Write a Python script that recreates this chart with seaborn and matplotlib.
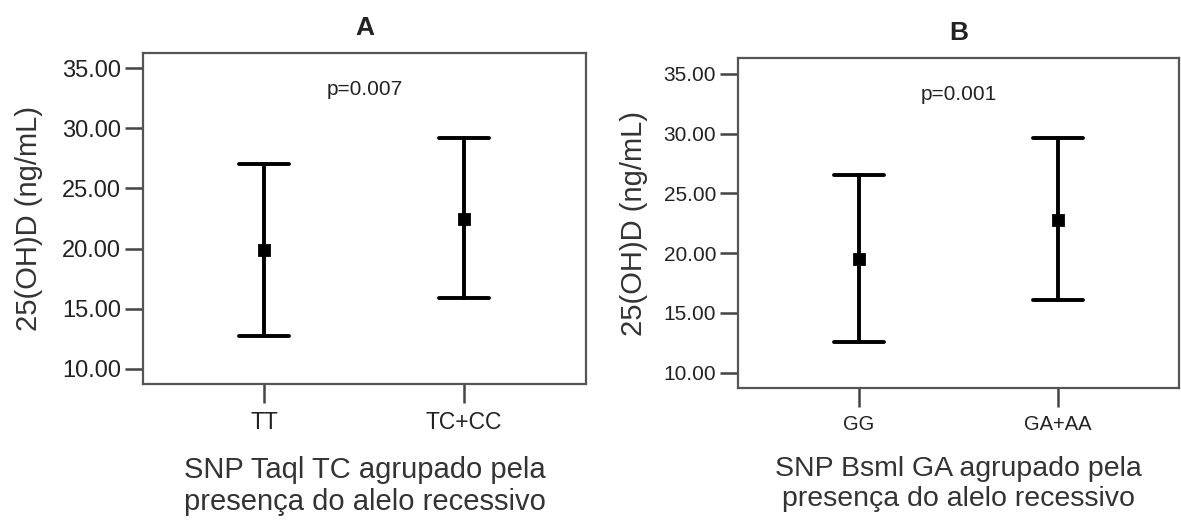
import numpy as np
import pandas as pd
import seaborn as sns
import matplotlib.pyplot as plt
from matplotlib.ticker import FormatStrFormatter

# summary stats: mean with lower/upper limits of the bars
groups_a = ["TT", "TC+CC"]
mean_a = [19.9, 22.5]
lower_a = [12.7, 15.9]
upper_a = [27.0, 29.2]

groups_b = ["GG", "GA+AA"]
mean_b = [19.5, 22.8]
lower_b = [12.6, 16.1]
upper_b = [26.5, 29.6]

p_values = ["p=0.007", "p=0.001"]
panel_titles = ["A", "B"]
y_label = "25(OH)D (ng/mL)"
x_labels = ["SNP Taql TC agrupado pela\npresença do alelo recessivo",
            "SNP Bsml GA agrupado pela\npresença do alelo recessivo"]
y_ticks = [10, 15, 20, 25, 30, 35]


def long_form(groups, lower, mean, upper):
    # three rows per group, median = mean, min/max = bar ends
    rows = []
    for g, lo, m, hi in zip(groups, lower, mean, upper):
        for v in (lo, m, hi):
            rows.append({"grupo": g, "valor": v})
    return pd.DataFrame(rows)


def min_max(v):
    return (np.min(v), np.max(v))


sns.set_theme(style="white")
plt.rcParams["font.family"] = ["Liberation Sans", "DejaVu Sans"]
plt.rcParams["text.color"] = "#222222"

fig = plt.figure(figsize=(11.81, 5.21), dpi=100)
ax_a = fig.add_axes([0.1213, 0.2624, 0.3746, 0.6364])
ax_b = fig.add_axes([0.6251, 0.2547, 0.3732, 0.6334])

panels = [
    (ax_a, long_form(groups_a, lower_a, mean_a, upper_a), 17, 16.5, 21, -0.258, -0.215),
    (ax_b, long_form(groups_b, lower_b, mean_b, upper_b), 15, 14.5, 20.5, -0.237, -0.205),
]

for i, (ax, df, ytick_fs, xtick_fs, xlab_fs, ylab_x, xlab_y) in enumerate(panels):
    sns.pointplot(data=df, x="grupo", y="valor", estimator="median",
                  errorbar=min_max, color="black", marker="s", markersize=7,
                  linestyle="none", capsize=0.25,
                  err_kws={"linewidth": 2.8}, ax=ax)
    ax.set_xlim(-0.606, 1.609)
    ax.set_ylim(8.7, 36.3)
    ax.set_yticks(y_ticks)
    ax.yaxis.set_major_formatter(FormatStrFormatter("%.2f"))

    for s in ax.spines.values():
        s.set_visible(True)
        s.set_color("#555555")
        s.set_linewidth(1.6)
    ax.tick_params(axis="y", length=13, width=1.8, color="#444444",
                   labelsize=ytick_fs, labelcolor="#222222", pad=3, left=True)
    ax.tick_params(axis="x", length=14, width=1.8, color="#444444",
                   labelsize=xtick_fs, labelcolor="#222222", pad=5, bottom=True)

    ax.set_ylabel(y_label, fontsize=21, color="#333333", va="center")
    ax.yaxis.set_label_coords(ylab_x, 0.5)
    ax.set_xlabel(x_labels[i], fontsize=xlab_fs, color="#333333",
                  linespacing=1.2, va="top")
    ax.xaxis.set_label_coords(0.5, xlab_y)

    ax.text(0.5, 0.89, p_values[i], transform=ax.transAxes, ha="center",
            va="center", fontsize=15)
    ax.set_title(panel_titles[i], fontsize=19, fontweight="bold", pad=13)

fig.savefig("out.png", dpi=100)
